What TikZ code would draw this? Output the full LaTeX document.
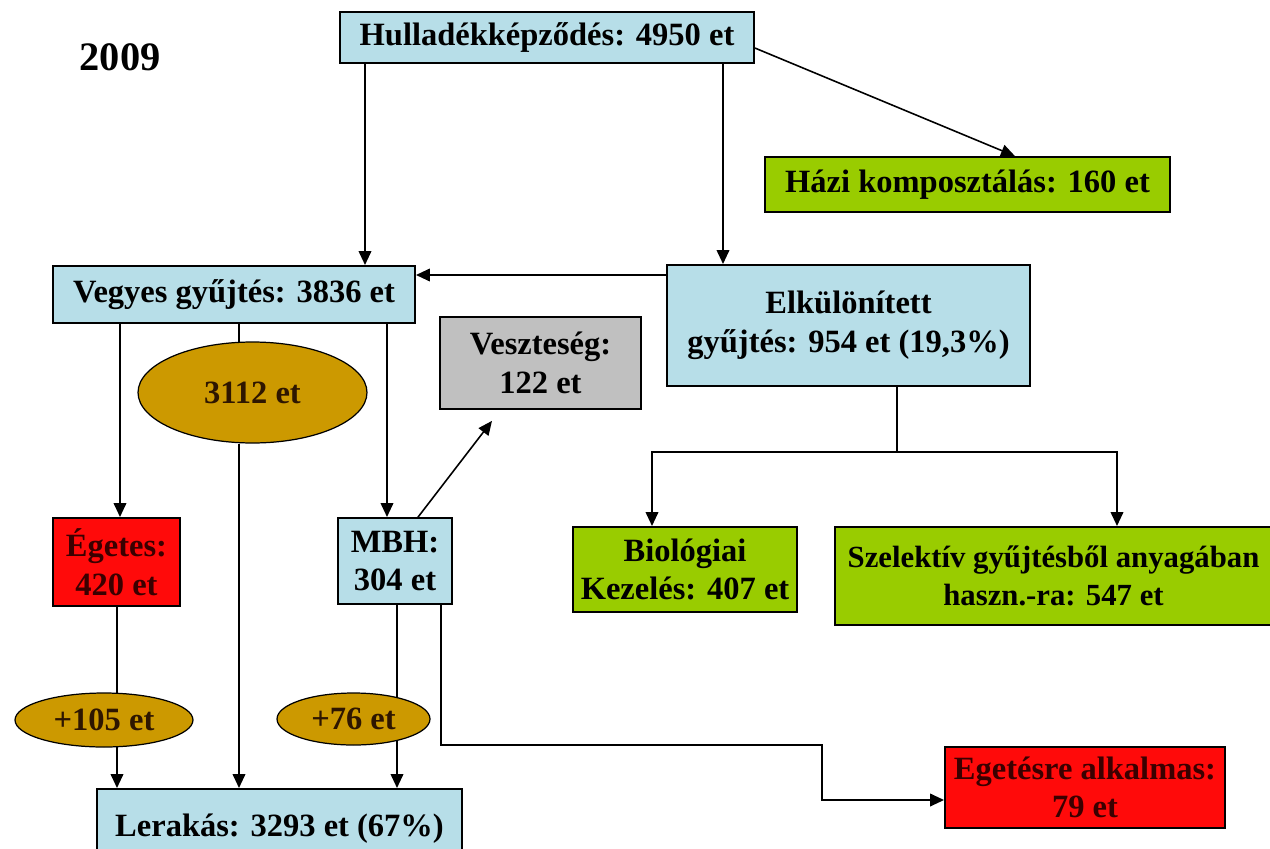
\documentclass[tikz,border=0pt]{standalone}
\usepackage{fontspec}
\setmainfont{Liberation Serif}
\usetikzlibrary{arrows.meta, positioning, shapes.geometric, backgrounds}
\definecolor{boxblue}{HTML}{B7DEE8}
\definecolor{boxgreen}{HTML}{99CC00}
\definecolor{boxgray}{HTML}{C0C0C0}
\definecolor{boxred}{HTML}{FF0A0A}
\definecolor{redtext}{HTML}{3A0000}
\definecolor{ovalgold}{HTML}{CC9900}
\definecolor{ovaltext}{HTML}{2E1600}

\begin{document}
\begin{tikzpicture}[
        x=0.02cm, y=-0.02cm, >={Triangle[length=8pt,width=7pt]},
        line width=1.5pt,
        every node/.style={font=\bfseries\fontsize{18.5}{22}\selectfont, align=center, inner sep=0pt},
        box/.style={draw, rectangle, line width=1pt},
        bluebox/.style={box, fill=boxblue},
        greenbox/.style={box, fill=boxgreen},
        graybox/.style={box, fill=boxgray},
        redbox/.style={box, fill=boxred, text=redtext},
        oval/.style={ellipse, draw, line width=0.7pt, fill=ovalgold, text=ovaltext},
        thin arrow/.style={->, line width=0.9pt}
        ]
        \useasboundingbox (0,0) rectangle (1270,848);
        \clip (0,0) rectangle (1270,848);

        \node[font=\bfseries\fontsize{23}{26}\selectfont] (year) at (120,57) {2009};

        \node[bluebox, minimum width=8.28cm, minimum height=1.02cm]  (hull)   at (547,37.5)   {Hulladékképződés: 4950 et};
        \node[greenbox, minimum width=8.1cm, minimum height=1.1cm]   (hazi)   at (967.5,184.5) {Házi komposztálás: 160 et};
        \node[bluebox, minimum width=7.26cm, minimum height=2.42cm]  (elk)    at (848.5,325.5) {Elkülönített\\gyűjtés: 954 et (19,3\%)};
        \node[bluebox, minimum width=7.24cm, minimum height=1.14cm]  (vegyes) at (234,294.5)   {Vegyes gyűjtés: 3836 et};
        \node[graybox, minimum width=4.02cm, minimum height=1.84cm]  (veszt)  at (540.5,363)   {Veszteség:\\122 et};
        \node[oval, minimum width=4.58cm, minimum height=2.02cm]     (o3112)  at (252.5,392.5) {3112 et};
        \node[redbox, minimum width=2.54cm, minimum height=1.76cm]   (eget)   at (116.5,562)   {Égetes:\\420 et};
        \node[bluebox, minimum width=2.28cm, minimum height=1.72cm]  (mbh)    at (395,561)     {MBH:\\304 et};
        \node[greenbox, minimum width=4.48cm, minimum height=1.7cm]  (bio)    at (685,569.5)   {Biológiai\\Kezelés: 407 et};
        \node[greenbox, minimum width=8.74cm, minimum height=1.96cm,
              font=\bfseries\fontsize{17.5}{22}\selectfont]          (szel)   at (1053.5,576)  {Szelektív gyűjtésből anyagában\\haszn.-ra: 547 et};
        \node[oval, minimum width=3.56cm, minimum height=1.08cm]     (o105)   at (104,720)     {+105 et};
        \node[oval, minimum width=3.06cm, minimum height=1.04cm]     (o76)    at (353.5,719)   {+76 et};
        \node[bluebox, minimum width=7.3cm, minimum height=1.6cm]    (lerak)  at (279.5,829)   {Lerakás: 3293 et (67\%)};
        \node[redbox, minimum width=5.6cm, minimum height=1.62cm]    (egre)   at (1085,787.5)  {Egetésre alkalmas:\\79 et};

        \coordinate (xa) at (365,0);
        \coordinate (xb) at (723,0);
        \coordinate (xc) at (120,0);
        \coordinate (xd) at (239,0);
        \coordinate (xe) at (387,0);
        \coordinate (xf) at (117,0);
        \coordinate (xg) at (397,0);
        \coordinate (xh) at (441,0);
        \coordinate (xbio) at (652,0);
        \coordinate (xszel) at (1117,0);
        \coordinate (ya) at (0,275);
        \coordinate (split) at (897,452);
        \coordinate (bend) at (822,745);
        \coordinate (yb) at (0,800);

        \draw[->] (hull.south -| xa) -- (vegyes.north -| xa);
        \draw[->] (hull.south -| xb) -- (elk.north -| xb);
        \draw[thin arrow] ([yshift=-0.21cm]hull.east) -- ([xshift=0.95cm]hazi.north);
        \draw[->] (elk.west |- ya) -- (vegyes.east |- ya);

        \draw[->] (vegyes.south -| xc) -- (eget.north -| xc);
        \draw[->] (vegyes.south -| xe) -- (mbh.north -| xe);
        \draw[thin arrow] ([xshift=0.46cm]mbh.north) -- ([xshift=-0.97cm,yshift=-0.22cm]veszt.south);
        \begin{scope}[on background layer={line width=1.5pt}]
          \draw (vegyes.south -| xd) -- (o3112.center -| xd);
          \draw (eget.south -| xf) -- (o105.center -| xf);
          \draw (mbh.south -| xg) -- (o76.center -| xg);
          \draw[->] (o105.center -| xf) -- (lerak.north -| xf);
          \draw[->] (o76.center -| xg) -- (lerak.north -| xg);
        \end{scope}
        \draw[->] (o3112.south -| xd) -- (lerak.north -| xd);
        \draw[->] (mbh.south -| xh) |- (bend) |- (egre.west |- yb);

        \draw (elk.south -| split) -- (split);
        \draw[->] (split) -| (bio.north -| xbio);
        \draw[->] (split) -| (szel.north -| xszel);
\end{tikzpicture}
\end{document}
